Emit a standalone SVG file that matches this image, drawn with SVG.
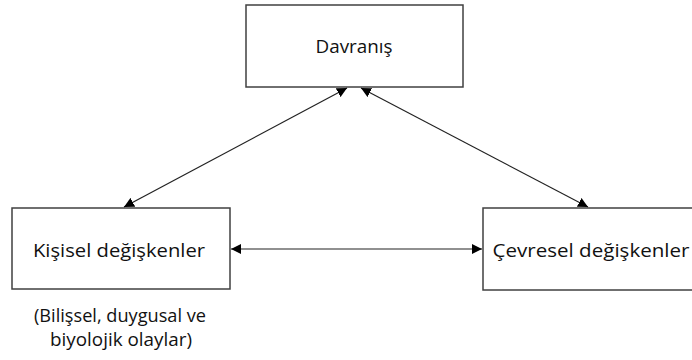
<svg xmlns="http://www.w3.org/2000/svg" width="692" height="360" viewBox="0 0 692 360">
<style>
.box{fill:#fff;stroke:#404040;stroke-width:1.5}
.lbl{font-family:"Open Sans","Liberation Sans",sans-serif;font-size:19px;fill:#111;text-anchor:middle}
.sub{font-size:18px}
.con{stroke:#222;stroke-width:1.2;fill:none;marker-start:url(#ah);marker-end:url(#ah)}
</style>
<defs>
<marker id="ah" viewBox="0 0 10 10" refX="10" refY="5" markerWidth="10" markerHeight="10" markerUnits="userSpaceOnUse" orient="auto-start-reverse">
<path d="M0,0 L10,5 L0,10 z" fill="#000"/>
</marker>
</defs>
<rect width="692" height="360" fill="#fff"/>
<g id="davranis">
<rect class="box" x="246" y="5" width="217" height="82"/>
<text class="lbl" x="354" y="53" textLength="77" lengthAdjust="spacingAndGlyphs">Davranış</text>
</g>
<g id="kisisel">
<rect class="box" x="12" y="208" width="218" height="81"/>
<text class="lbl" x="119" y="257" textLength="172" lengthAdjust="spacingAndGlyphs">Kişisel değişkenler</text>
<text class="lbl sub" x="120" y="322" textLength="172" lengthAdjust="spacingAndGlyphs">(Bilişsel, duygusal ve</text>
<text class="lbl sub" x="121" y="346" textLength="142" lengthAdjust="spacingAndGlyphs">biyolojik olaylar)</text>
</g>
<g id="cevresel">
<rect class="box" x="483" y="208" width="220" height="82"/>
<text class="lbl" x="591" y="257" textLength="197" lengthAdjust="spacingAndGlyphs">Çevresel değişkenler</text>
</g>
<g id="connectors">
<line class="con" x1="347" y1="88" x2="124" y2="207"/>
<line class="con" x1="361" y1="88" x2="588" y2="207"/>
<line class="con" x1="231" y1="249" x2="482" y2="249"/>
</g>
</svg>
